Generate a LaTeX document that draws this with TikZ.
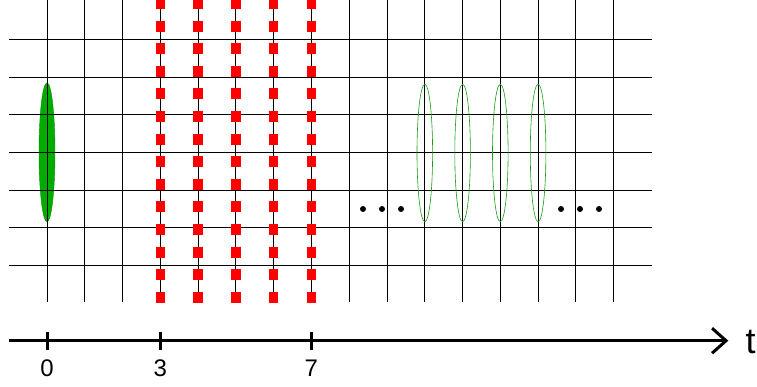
\documentclass[tikz,border=0pt]{standalone}
\usepackage{fontspec}
\setmainfont{Liberation Sans}
\usetikzlibrary{arrows.meta,shapes.geometric}
\definecolor{fillgreen}{RGB}{0,172,0}
\definecolor{edgegreen}{RGB}{0,140,0}
\definecolor{thingreen}{RGB}{20,160,20}
\tikzset{
  gridline/.style={black, line width=0.9pt},
  reddash/.style={red, line width=9.3pt, dash pattern=on 11pt off 11.6pt},
  thinell/.style={ellipse, draw=thingreen, line width=0.6pt, minimum width=15.6pt, minimum height=137.5pt, inner sep=0pt},
  fillell/.style={ellipse, draw=edgegreen, fill=fillgreen, line width=0.4pt, minimum width=16pt, minimum height=139pt, inner sep=0pt},
  dotnode/.style={circle, fill=black, minimum size=6pt, inner sep=0pt},
  axis/.style={black, line width=3pt, -{Straight Barb[length=14pt,width=25pt,line width=3pt]}},
  tick/.style={black, line width=3pt},
  ticklabel/.style={anchor=base, inner sep=0pt, font=\fontsize{24}{28}\selectfont},
  tlabel/.style={anchor=base west, inner sep=0pt, font=\fontsize{36}{42}\selectfont}
}
\begin{document}
\begin{tikzpicture}[x=1pt,y=-1pt]
\useasboundingbox (0,0) rectangle (757,387);
% filled ellipse at t=0
\node[fillell] (e0) at (47,152.3) {};
% grid
\foreach \i in {0,...,15}{
  \draw[gridline] ({47+37.78*\i},0) -- ({47+37.78*\i},302.3);
}
\foreach \j in {0,...,6}{
  \draw[gridline] (9,{39.3+37.7*\j}) -- (651.5,{39.3+37.7*\j});
}
% red dashed lines
\foreach \i in {3,...,7}{
  \draw[reddash] ({47+37.78*\i},-1.9) -- ({47+37.78*\i},303);
}
% thin green ellipses
\node[thinell] (e1) at (424.8,153) {};
\node[thinell] (e2) at (462.6,153) {};
\node[thinell] (e3) at (500.3,153) {};
\node[thinell] (e4) at (538.1,153) {};
% dots
\node[dotnode] (d1) at (363,209) {};
\node[dotnode] (d2) at (382,209) {};
\node[dotnode] (d3) at (401,209) {};
\node[dotnode] (d4) at (561,209) {};
\node[dotnode] (d5) at (580,209) {};
\node[dotnode] (d6) at (599,209) {};
% time axis
\coordinate (axstart) at (9,340.7);
\coordinate (axend) at (728.3,340.7);
\draw[axis] (axstart) -- (axend);
\foreach \x/\lab/\nm in {47/0/l0, 160.3/3/l3, 311.3/7/l7}{
  \coordinate (tt\nm) at (\x,331.5);
  \coordinate (tb\nm) at (\x,350);
  \draw[tick] (tt\nm) -- (tb\nm);
  \node[ticklabel] (\nm) at (\x,376.4) {\lab};
}
\node[tlabel] (tl) at (745.3,353.2) {t};
\end{tikzpicture}
\end{document}
